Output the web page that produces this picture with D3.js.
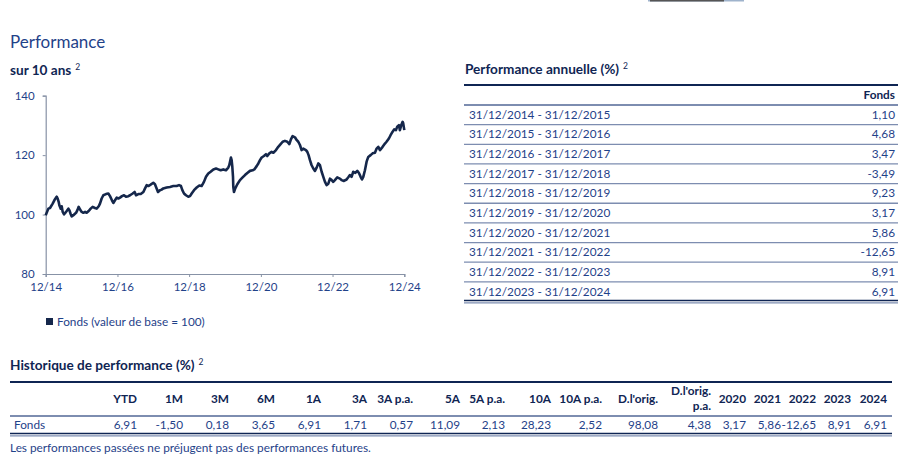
<!DOCTYPE html>
<html>
<head>
<meta charset="utf-8">
<script src="https://cdn.jsdelivr.net/npm/d3@7"></script>
<style>
html,body{margin:0;padding:0;background:#fff;}
svg{display:block;}
</style>
</head>
<body>
<svg id="c" width="907" height="461"></svg>
<script>
// ---- DATA ----
// time offsets (years since 31/12/2014) and fund values (base 100)
const yearsSinceStart = [0,0.074,0.121,0.195,0.242,0.288,0.307,0.335,0.362,0.381,0.418,0.446,0.474,0.511,0.548,0.586,0.632,0.660,0.697,0.725,0.771,0.846,0.883,0.920,0.957,1.004,1.050,1.097,1.143,1.199,1.255,1.310,1.375,1.422,1.478,1.515,1.561,1.608,1.682,1.747,1.794,1.849,1.887,1.933,1.980,2.026,2.072,2.128,2.184,2.240,2.305,2.351,2.426,2.481,2.519,2.584,2.649,2.723,2.770,2.816,2.862,2.928,3.002,3.048,3.095,3.132,3.188,3.234,3.281,3.374,3.467,3.559,3.652,3.717,3.773,3.810,3.857,3.913,3.978,4.024,4.071,4.136,4.210,4.284,4.349,4.414,4.470,4.535,4.600,4.675,4.749,4.814,4.879,4.954,5.028,5.093,5.121,5.149,5.167,5.186,5.204,5.223,5.232,5.251,5.288,5.344,5.418,5.493,5.558,5.623,5.697,5.771,5.818,5.883,5.929,5.976,6.022,6.087,6.143,6.180,6.236,6.301,6.348,6.422,6.487,6.552,6.608,6.673,6.738,6.794,6.840,6.887,6.952,6.998,7.045,7.091,7.138,7.184,7.258,7.296,7.333,7.370,7.416,7.463,7.509,7.556,7.602,7.649,7.695,7.742,7.788,7.835,7.881,7.928,7.974,8.020,8.067,8.132,8.206,8.253,8.318,8.392,8.448,8.485,8.532,8.578,8.634,8.690,8.736,8.783,8.820,8.857,8.903,8.950,8.996,9.061,9.117,9.182,9.229,9.275,9.322,9.396,9.461,9.507,9.572,9.619,9.675,9.721,9.768,9.805,9.851,9.879,9.916,9.954,9.972,10.000];
const fundValues = [99.8,102.0,102.2,103.7,104.8,105.7,106.0,105.4,104.3,103.1,102.0,102.8,100.9,100.1,100.6,101.2,102.0,101.5,100.1,99.4,99.8,100.6,101.5,102.6,101.7,100.9,100.6,100.9,100.6,101.2,102.0,102.6,102.2,102.0,102.8,103.7,105.4,106.5,106.9,107.1,106.2,104.8,103.9,104.8,105.7,105.4,105.7,106.2,106.5,106.0,106.2,106.5,107.1,107.6,106.5,106.9,106.9,107.6,108.8,109.9,109.6,110.1,110.7,110.2,108.8,107.6,108.2,108.4,108.8,109.1,109.3,109.6,109.6,109.9,109.6,108.2,107.1,106.5,106.0,106.2,107.1,108.2,109.1,109.8,109.6,111.0,112.7,113.8,114.4,115.2,115.5,115.2,114.9,115.2,114.9,115.8,116.6,118.3,119.2,118.3,116.1,112.7,109.3,107.6,108.8,110.2,111.6,112.5,113.3,114.0,114.7,114.9,115.2,116.3,117.2,118.3,119.2,119.7,120.3,119.7,120.6,121.1,120.8,121.7,122.8,123.7,124.5,124.8,124.5,123.7,125.3,126.4,126.0,125.1,124.5,123.4,121.7,122.2,121.7,121.1,120.0,118.3,116.6,115.5,114.7,115.8,117.2,116.6,114.4,112.7,111.0,109.9,110.4,112.1,111.6,111.0,111.6,112.5,112.1,111.6,111.3,111.8,112.7,113.3,112.7,114.4,114.0,114.7,114.0,112.7,111.8,112.7,114.9,117.8,119.4,120.0,120.6,120.8,122.2,122.8,121.7,122.8,123.9,124.5,125.6,126.7,127.9,128.7,128.4,129.6,130.1,128.4,130.1,131.2,130.7,128.4];
const yTicks = [80,100,120,140];
const xTickDates = ["2014-12-31","2016-12-31","2018-12-31","2020-12-31","2022-12-31","2024-12-31"];

const annualPeriods = ["31/12/2014 - 31/12/2015","31/12/2015 - 31/12/2016","31/12/2016 - 31/12/2017","31/12/2017 - 31/12/2018","31/12/2018 - 31/12/2019","31/12/2019 - 31/12/2020","31/12/2020 - 31/12/2021","31/12/2021 - 31/12/2022","31/12/2022 - 31/12/2023","31/12/2023 - 31/12/2024"];
const annualFund = ["1,10","4,68","3,47","-3,49","9,23","3,17","5,86","-12,65","8,91","6,91"];

const histHeaders = [["YTD"],["1M"],["3M"],["6M"],["1A"],["3A"],["3A p.a."],["5A"],["5A p.a."],["10A"],["10A p.a."],["D.l'orig."],["D.l'orig.","p.a."],["2020"],["2021"],["2022"],["2023"],["2024"]];
const histFund = ["6,91","-1,50","0,18","3,65","6,91","1,71","0,57","11,09","2,13","28,23","2,52","98,08","4,38","3,17","5,86","-12,65","8,91","6,91"];

// ---- DRAW ----
const svg = d3.select("#c");
const FONT = "Lato, 'Open Sans', sans-serif";
const blue = "#1f4289";
const navy = "#0f2553";
const FS = 11.8;

svg.append("rect").attr("width",907).attr("height",461).attr("fill","#fff");
// small bar at top
svg.append("rect").attr("x",648).attr("y",0).attr("width",96).attr("height",1.5).attr("fill","#9fb3cc");
svg.append("rect").attr("x",650).attr("y",0).attr("width",74).attr("height",1.5).attr("fill","#555");

svg.append("text").attr("x",10).attr("y",48).attr("font-family",FONT).attr("font-size",17)
  .attr("fill",blue).text("Performance");

function heading(x,y,txt){
  const t = svg.append("text").attr("x",x).attr("y",y).attr("font-family",FONT)
    .attr("font-size",13.6).attr("font-weight","bold").attr("fill",navy).text(txt);
  t.append("tspan").attr("dx",4).attr("dy",-5).attr("font-size",8.5).attr("font-weight","normal").text("2");
}
heading(10,75,"sur 10 ans");
heading(465,74,"Performance annuelle (%)");
heading(10,370,"Historique de performance (%)");

// line chart
const start = new Date(2014,11,31);
const parse = d3.timeParse("%Y-%m-%d");
const series = yearsSinceStart.map((t,i)=>({date:d3.timeDay.offset(start, Math.round(t*365.25)), v:fundValues[i]}));
const x = d3.scaleTime().domain([start, parse("2024-12-31")]).range([45.7,404.3]);
const y = d3.scaleLinear().domain([80,140]).range([274,95.7]);

const axisColor = "#8792a6";
const gx = svg.append("g").attr("transform","translate(0,274)")
  .call(d3.axisBottom(x).tickValues(xTickDates.map(parse)).tickFormat(d3.timeFormat("%m/%y")).tickSize(3).tickPadding(6));
const gy = svg.append("g").attr("transform","translate(45.7,0)")
  .call(d3.axisLeft(y).tickValues(yTicks).tickSize(3).tickPadding(8));
[gx,gy].forEach(g=>{
  g.select(".domain").attr("stroke",axisColor).attr("stroke-width",1.2);
  g.selectAll(".tick line").attr("stroke",axisColor);
  g.selectAll(".tick text").attr("font-family",FONT).attr("font-size",11.5).attr("fill",blue);
});

svg.append("path").datum(series)
  .attr("d", d3.line().x(d=>x(d.date)).y(d=>y(d.v)))
  .attr("fill","none").attr("stroke","#15274b").attr("stroke-width",2.6).attr("stroke-linejoin","round");

// legend
svg.append("rect").attr("x",46).attr("y",318).attr("width",7).attr("height",7).attr("fill","#15274b");
svg.append("text").attr("x",57).attr("y",326).attr("font-family",FONT).attr("font-size",FS)
  .attr("fill",blue).text("Fonds (valeur de base = 100)");

// annual table
const tx0 = 464, tx1 = 898;
const rowY = d3.scaleLinear().domain([0,10]).range([105,301.5]);
svg.append("line").attr("x1",tx0).attr("x2",tx1).attr("y1",85).attr("y2",85).attr("stroke",navy).attr("stroke-width",2);
svg.append("text").attr("x",895).attr("y",99).attr("text-anchor","end").attr("font-family",FONT)
  .attr("font-size",FS).attr("font-weight","bold").attr("fill",navy).text("Fonds");
svg.append("line").attr("x1",tx0).attr("x2",tx1).attr("y1",105).attr("y2",105).attr("stroke","#7d8db0").attr("stroke-width",2);
annualPeriods.forEach((p,i)=>{
  const yc = (rowY(i)+rowY(i+1))/2;
  svg.append("text").attr("x",469).attr("y",yc+4).attr("font-family",FONT).attr("font-size",FS).attr("fill",blue).text(p);
  svg.append("text").attr("x",895).attr("y",yc+4).attr("text-anchor","end").attr("font-family",FONT).attr("font-size",FS).attr("fill",blue).text(annualFund[i]);
  if(i<9) svg.append("line").attr("x1",tx0).attr("x2",tx1).attr("y1",rowY(i+1)).attr("y2",rowY(i+1)).attr("stroke","#7d8db0").attr("stroke-width",1.3);
});
svg.append("line").attr("x1",tx0).attr("x2",tx1).attr("y1",300.5).attr("y2",300.5).attr("stroke",navy).attr("stroke-width",1.4);
svg.append("line").attr("x1",tx0).attr("x2",tx1).attr("y1",302.8).attr("y2",302.8).attr("stroke","#7d8db0").attr("stroke-width",1.2);

// history table
const colRight = [137,183,229,275,321,367,413,460,505,551,602,658,711,746,781,816,851,887];
const hx0 = 10, hx1 = 892;
svg.append("line").attr("x1",hx0).attr("x2",hx1).attr("y1",382).attr("y2",382).attr("stroke",navy).attr("stroke-width",2);
histHeaders.forEach((h,i)=>{
  if(h.length===1){
    svg.append("text").attr("x",colRight[i]).attr("y",403).attr("text-anchor","end").attr("font-family",FONT)
      .attr("font-size",FS).attr("font-weight","bold").attr("fill",navy).text(h[0]);
  } else {
    h.forEach((s,k)=>svg.append("text").attr("x",colRight[i]).attr("y",395+k*15).attr("text-anchor","end").attr("font-family",FONT)
      .attr("font-size",FS).attr("font-weight","bold").attr("fill",navy).text(s));
  }
  svg.append("text").attr("x",colRight[i]).attr("y",429).attr("text-anchor","end").attr("font-family",FONT)
    .attr("font-size",FS).attr("fill",blue).text(histFund[i]);
});
svg.append("text").attr("x",14).attr("y",429).attr("font-family",FONT).attr("font-size",FS).attr("fill",blue).text("Fonds");
svg.append("line").attr("x1",hx0).attr("x2",hx1).attr("y1",416).attr("y2",416).attr("stroke","#7d8db0").attr("stroke-width",2);
svg.append("line").attr("x1",hx0).attr("x2",hx1).attr("y1",433.5).attr("y2",433.5).attr("stroke",navy).attr("stroke-width",1.4);
svg.append("line").attr("x1",hx0).attr("x2",hx1).attr("y1",435.8).attr("y2",435.8).attr("stroke","#7d8db0").attr("stroke-width",1.2);

svg.append("text").attr("x",10).attr("y",452).attr("font-family",FONT).attr("font-size",FS).attr("fill",blue)
  .text("Les performances passées ne préjugent pas des performances futures.");
</script>
</body>
</html>
